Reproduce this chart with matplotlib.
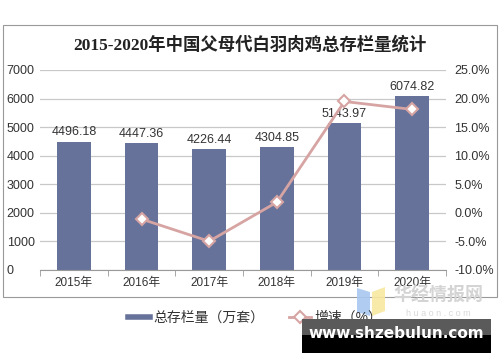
import matplotlib
matplotlib.use("Agg")
import matplotlib.pyplot as plt
from matplotlib.patches import Rectangle, Polygon
from matplotlib.lines import Line2D

plt.rcParams['font.family'] = ['Liberation Sans', 'Noto Sans CJK SC', 'DejaVu Sans']

# data
years = ["2015年", "2016年", "2017年", "2018年", "2019年", "2020年"]
stock = [4496.18, 4447.36, 4226.44, 4304.85, 5143.97, 6074.82]
growth_years = ["2016年", "2017年", "2018年", "2019年", "2020年"]
growth = [-1.09, -4.97, 1.86, 19.49, 18.10]

bar_color = "#67729a"
line_color = "#d6a4a2"
grid_color = "#c8c8c8"
text_color = "#333333"

fig = plt.figure(figsize=(5.0, 3.62), dpi=100)

# outer frame
fig.patches.append(Rectangle((3 / 500, 1 - 297 / 362), 494 / 500, 272 / 362,
                             transform=fig.transFigure, fill=False,
                             edgecolor="#999999", linewidth=0.8))

fig.text(0.5, 1 - 45 / 362, "2015-2020年中国父母代白羽肉鸡总存栏量统计",
         ha="center", va="center", fontsize=12.5, fontweight="bold",
         color="#222222", family=['Liberation Serif', 'Noto Sans CJK SC'])

ax = fig.add_axes([40 / 500, 1 - 270 / 362, 406 / 500, 200 / 362])
x = list(range(len(years)))
ax.bar(x, stock, width=0.5, color=bar_color, zorder=2)
for xi, v in zip(x, stock):
    ax.text(xi, v + 120, f"{v:.2f}", ha="center", va="bottom",
            fontsize=9, color=text_color, zorder=5)

ax.set_xlim(-0.5, len(years) - 0.5)
ax.set_ylim(0, 7000)
ax.set_yticks(range(0, 7001, 1000))
ax.set_xticks(x)
ax.set_xticklabels(years)
ax.set_xticks([i + 0.5 for i in range(-1, len(years))], minor=True)
ax.tick_params(axis="x", which="major", length=0, labelsize=8.5,
               labelcolor=text_color, pad=5)
ax.tick_params(axis="x", which="minor", length=4, color="#999999")
ax.tick_params(axis="y", length=0, labelsize=9, labelcolor=text_color, pad=24)
for lab in ax.get_yticklabels():
    lab.set_horizontalalignment("left")
ax.grid(axis="y", color=grid_color, linewidth=0.9, zorder=0)
for s in ["top", "left", "right"]:
    ax.spines[s].set_visible(False)
ax.spines["bottom"].set_color("#999999")

ax2 = ax.twinx()
gx = [years.index(y) for y in growth_years]
ax2.plot(gx, growth, color=line_color, linewidth=2, marker="D", markersize=6,
         markerfacecolor="white", markeredgecolor=line_color,
         markeredgewidth=1.5, zorder=4)
ax2.set_ylim(-10, 25)
ax2.set_yticks(range(-10, 26, 5))
ax2.set_yticklabels([f"{v:.1f}%" for v in range(-10, 26, 5)])
ax2.tick_params(axis="y", length=0, labelsize=9, labelcolor=text_color, pad=6)
for s in ["top", "left", "right", "bottom"]:
    ax2.spines[s].set_visible(False)

handles = [Line2D([0], [0], color=bar_color, linewidth=4),
           Line2D([0], [0], color=line_color, linewidth=2, marker="D",
                  markersize=6, markerfacecolor="white",
                  markeredgecolor=line_color, markeredgewidth=1.5)]
fig.legend(handles, ["总存栏量（万套）", "增速（%）"], loc="center",
           bbox_to_anchor=(0.51, 1 - 318 / 362), ncol=2, frameon=False,
           fontsize=10, handlelength=1.6, handletextpad=0.2, columnspacing=1.8,
           labelcolor=text_color)

# watermark logo
fig.patches.append(Polygon([(357 / 500, 1 - 288 / 362), (370 / 500, 1 - 292 / 362),
                            (370 / 500, 1 - 316 / 362), (357 / 500, 1 - 312 / 362)],
                           closed=True, transform=fig.transFigure,
                           facecolor="#a8c8f0", edgecolor="none", alpha=0.9))
fig.patches.append(Polygon([(372 / 500, 1 - 292 / 362), (385 / 500, 1 - 287 / 362),
                            (385 / 500, 1 - 311 / 362), (372 / 500, 1 - 316 / 362)],
                           closed=True, transform=fig.transFigure,
                           facecolor="#f8e8a0", edgecolor="none", alpha=0.9))
fig.text(438 / 500, 1 - 296 / 362, "华经情报网", ha="center", va="center",
         fontsize=13, fontweight="bold", color="#d4d4d4")
fig.text(438 / 500, 1 - 313 / 362, "h u a o n . c o m", ha="center",
         va="center", fontsize=6.5, color="#d8d8d8")

# watermark banner
fig.patches.append(Rectangle((302 / 500, 1 - 335 / 362), 189 / 500, 16 / 362,
                             transform=fig.transFigure, facecolor="#5a5a5a",
                             edgecolor="none", zorder=10))
fig.patches.append(Rectangle((302 / 500, 1 - 353 / 362), 189 / 500, 18 / 362,
                             transform=fig.transFigure, facecolor="black",
                             edgecolor="none", zorder=10))
fig.text(396 / 500, 1 - 334 / 362, "www.shzebulun.com", ha="center",
         va="center", fontsize=11, fontweight="bold", color="white",
         family="DejaVu Sans", zorder=11)

fig.savefig("out.png", dpi=100)
